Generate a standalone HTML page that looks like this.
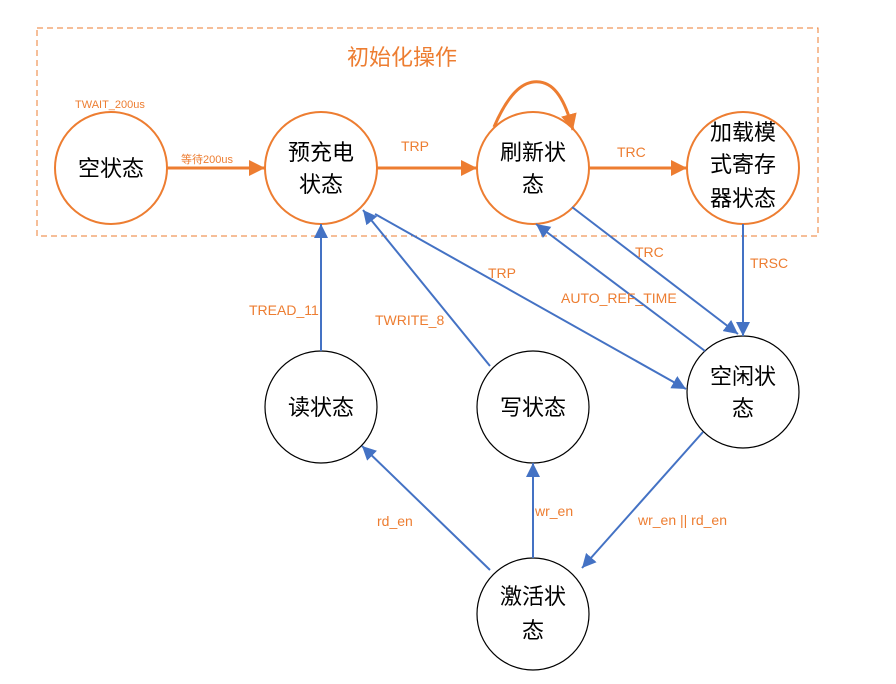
<!DOCTYPE html>
<html><head><meta charset="utf-8"><style>
body{margin:0;background:#fff}
svg text{font-family:"Liberation Sans","Noto Sans CJK SC",sans-serif}
</style></head><body>
<svg width="896" height="679" viewBox="0 0 896 679" xmlns="http://www.w3.org/2000/svg">
<defs>
<marker id="ao" viewBox="0 0 10 10" refX="10" refY="5" markerWidth="5" markerHeight="5" orient="auto" markerUnits="userSpaceOnUse" style="overflow:visible"><path d="M0,0 L10,5 L0,10 z" fill="#ED7D31" transform="scale(1.6) translate(-3.8,-3.1)"/></marker>
<marker id="ab" viewBox="0 0 10 10" refX="10" refY="5" markerWidth="14" markerHeight="14" orient="auto" markerUnits="userSpaceOnUse"><path d="M0,0 L10,5 L0,10 z" fill="#4472C4"/></marker>
<marker id="ao2" viewBox="0 0 10 10" refX="10" refY="5" markerWidth="16" markerHeight="16" orient="auto" markerUnits="userSpaceOnUse"><path d="M0,0 L10,5 L0,10 z" fill="#ED7D31"/></marker>
</defs>
<rect x="37" y="28" width="781" height="208" fill="none" stroke="#ED7D31" stroke-dasharray="6,4" stroke-width="1"/>
<text x="347" y="65" font-size="22" fill="#ED7D31">初始化操作</text>
<g fill="none" stroke-width="2">
<circle cx="111" cy="168" r="56" stroke="#ED7D31"/>
<circle cx="321" cy="168" r="56" stroke="#ED7D31"/>
<circle cx="533" cy="168" r="56" stroke="#ED7D31"/>
<circle cx="743" cy="168" r="56" stroke="#ED7D31"/>
<circle cx="743" cy="392" r="56" stroke="#000" stroke-width="1.2"/>
<circle cx="321" cy="407" r="56" stroke="#000" stroke-width="1.2"/>
<circle cx="533" cy="407" r="56" stroke="#000" stroke-width="1.2"/>
<circle cx="533" cy="614" r="56" stroke="#000" stroke-width="1.2"/>
</g>
<g stroke="#ED7D31" stroke-width="3" fill="none">
<line x1="167" y1="168" x2="265" y2="168" marker-end="url(#ao2)"/>
<line x1="377" y1="168" x2="477" y2="168" marker-end="url(#ao2)"/>
<line x1="589" y1="168" x2="687" y2="168" marker-end="url(#ao2)"/>
<path d="M494,127 C510,90 525,80 540,82 C555,84 565,100 573,130" marker-end="url(#ao2)"/>
</g>
<g stroke="#4472C4" stroke-width="2" fill="none">
<line x1="743" y1="224" x2="743" y2="336" marker-end="url(#ab)"/>
<line x1="572" y1="207" x2="738" y2="334" marker-end="url(#ab)"/>
<line x1="705" y1="351" x2="536" y2="224" marker-end="url(#ab)"/>
<line x1="375" y1="214" x2="686" y2="389" marker-end="url(#ab)"/>
<line x1="490" y1="366" x2="363" y2="210" marker-end="url(#ab)"/>
<line x1="321" y1="351" x2="321" y2="224" marker-end="url(#ab)"/>
<line x1="490" y1="570" x2="362" y2="446" marker-end="url(#ab)"/>
<line x1="533" y1="558" x2="533" y2="463" marker-end="url(#ab)"/>
<line x1="703" y1="432" x2="582" y2="568" marker-end="url(#ab)"/>
</g>
<g font-size="22" fill="#000" text-anchor="middle">
<text x="111" y="176">空状态</text>
<text x="321" y="160">预充电</text><text x="321" y="192">状态</text>
<text x="533" y="160">刷新状</text><text x="533" y="192">态</text>
<text x="743" y="140">加载模</text><text x="743" y="172">式寄存</text><text x="743" y="206">器状态</text>
<text x="743" y="384">空闲状</text><text x="743" y="416">态</text>
<text x="321" y="415">读状态</text>
<text x="533" y="415">写状态</text>
<text x="533" y="604">激活状</text><text x="533" y="638">态</text>
</g>
<g font-size="14" fill="#ED7D31">
<text x="75" y="108" font-size="11">TWAIT_200us</text>
<text x="181" y="163" font-size="11">等待200us</text>
<text x="401" y="151">TRP</text>
<text x="617" y="157">TRC</text>
<text x="635" y="257">TRC</text>
<text x="750" y="268">TRSC</text>
<text x="488" y="278">TRP</text>
<text x="561" y="303">AUTO_REF_TIME</text>
<text x="249" y="315">TREAD_11</text>
<text x="375" y="325">TWRITE_8</text>
<text x="377" y="526">rd_en</text>
<text x="535" y="516">wr_en</text>
<text x="638" y="525">wr_en || rd_en</text>
</g>
</svg>
</body></html>
